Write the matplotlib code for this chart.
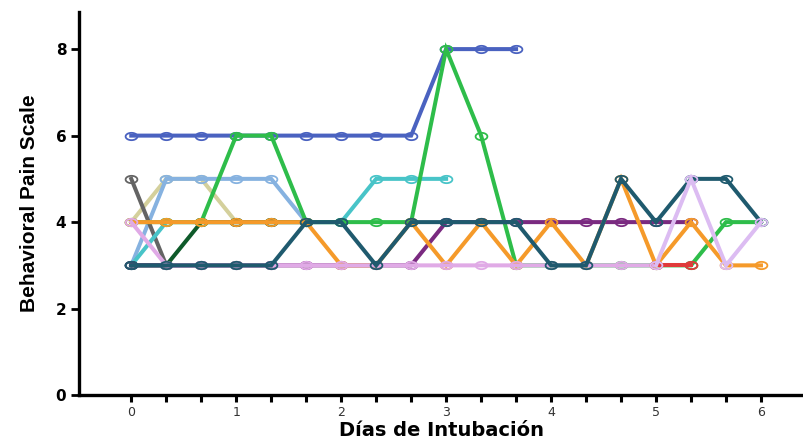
import numpy as np
import matplotlib
matplotlib.use("Agg")
import matplotlib.pyplot as plt
from matplotlib.path import Path

nan = np.nan

# 19 readings per patient, every 8 hours (1/3 day)
days = np.arange(19) / 3.0

blue = [6, 6, 6, 6, 6, 6, 6, 6, 6, 8, 8, 8] + [nan] * 7
khaki = [4, 5, 5, 4, 4, 4] + [nan] * 13
lightblue = [3, 5, 5, 5, 5, 4] + [nan] * 13
gray = [5, 3, 3, 3, 3] + [nan] * 14
cyan = [3, 4, 4, 4, 4, 4, 4, 5, 5, 5] + [nan] * 9
pink = [4, 3, 3, 3, 3, 3, 3, 3, 3, 3, 3, 3, 3, 3, 3, 3] + [nan] * 3
darkgreen = [3, 3, 4, 4, 4, 4] + [nan] * 13
green = [4, 4, 4, 6, 6, 4, 4, 4, 4, 8, 6, 3, 3, 3, 3, 3, 3, 4, 4]
orange = [4, 4, 4, 4, 4, 4, 3, 3, 4, 3, 4, 3, 4, 3, 5, 3, 4, 3, 3]
purple = [3, 3, 3, 3, 3, 3, 3, 3, 3, 4, 4, 4, 4, 4, 4, 4, 4] + [nan] * 2
red = [nan] * 15 + [3, 3] + [nan] * 2
teal = [3, 3, 3, 3, 3, 4, 4, 3, 4, 4, 4, 4, 3, 3, 5, 4, 5, 5, 4]
lavender = [nan] * 15 + [3, 5, 3, 4]

# drawing order, bottom first
series = [
    (blue, "#4a62c0"),
    (khaki, "#d4d09c"),
    (lightblue, "#86b2e0"),
    (gray, "#646464"),
    (cyan, "#48c4c8"),
    (darkgreen, "#0e5a2a"),
    (green, "#2ebd4a"),
    (purple, "#7a2a80"),
    (orange, "#f59a2a"),
    (pink, "#e0aae6"),
    (red, "#e03a3a"),
    (teal, "#1f5a6e"),
    (lavender, "#dcbcf2"),
]

# flattened open circle (the original picture is stretched sideways)
t = np.linspace(0, 2 * np.pi, 40)
ell = Path(np.column_stack([np.cos(t), 0.62 * np.sin(t)]), closed=True)

fig = plt.figure(figsize=(8.04, 4.41), dpi=100)
ax = fig.add_axes([0.098, 0.104, 0.902, 0.869])

for vals, col in series:
    ax.plot(days, vals, color=col, lw=2.9, marker=ell, ms=8.5,
            mfc="none", mec=col, mew=1.3, solid_joinstyle="miter")

ax.set_xlim(-0.5, 6.41)
ax.set_ylim(0, 8.86)

ax.set_yticks([0, 2, 4, 6, 8])
ax.set_xticks(range(7))
ax.set_xticks(days, minor=True)
ax.tick_params(axis="y", length=6, width=2, pad=3, labelsize=11)
ax.tick_params(axis="x", which="both", length=5, width=2.2, pad=3,
               labelsize=9, labelcolor="#333333")
for lab in ax.get_yticklabels():
    lab.set_fontweight("bold")

for s in ["top", "right"]:
    ax.spines[s].set_visible(False)
for s in ["left", "bottom"]:
    ax.spines[s].set_linewidth(2.4)

ax.set_ylabel("Behavioral Pain Scale", fontsize=15, fontweight="bold",
              family=["Liberation Sans Narrow", "Liberation Sans"], labelpad=12)
ax.set_xlabel("Días de Intubación", fontsize=14, fontweight="bold", labelpad=1)

fig.savefig("out.png", dpi=100)
